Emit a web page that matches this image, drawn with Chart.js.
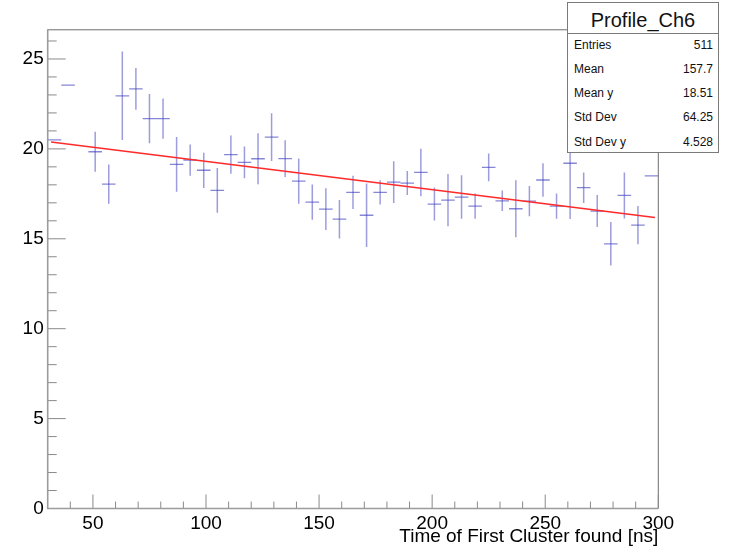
<!DOCTYPE html>
<html>
<head>
<meta charset="utf-8">
<script src="https://cdn.jsdelivr.net/npm/chart.js@4.4.0/dist/chart.umd.min.js"></script>
<style>
html,body{margin:0;padding:0;background:#fff;}
#wrap{position:relative;width:731px;height:553px;overflow:hidden;}
#stats{position:absolute;left:567px;top:2px;width:152px;height:151px;box-sizing:border-box;border:1px solid #7a7a7a;background:#fff;font-family:"Liberation Sans",Arial,Helvetica,sans-serif;color:#111;}
#stats .title{position:absolute;left:0;right:0;top:0;height:30px;border-bottom:1px solid #7a7a7a;text-align:center;font-size:20px;line-height:34px;}
#stats .row{position:absolute;left:6px;right:5px;font-size:12px;height:20px;line-height:20px;}
#stats .row span.v{position:absolute;right:0;top:0;}
</style>
</head>
<body>
<div id="wrap">
  <canvas id="c" width="731" height="553"></canvas>
  <div id="stats"></div>
</div>
<script>
// ---- data ----
const binCenters = [33,39,45,51,57,63,69,75,81,87,93,99,105,111,117,123,129,135,141,147,153,159,165,171,177,183,189,195,201,207,213,219,225,231,237,243,249,255,261,267,273,279,285,291,297];
const profMean = [20.50,23.55,null,19.84,18.04,22.95,23.34,21.68,21.68,19.14,19.38,18.81,17.69,19.68,19.25,19.45,20.65,19.46,18.21,17.04,16.65,16.09,17.58,16.31,17.58,18.15,18.10,18.69,16.93,17.15,17.32,16.82,18.97,17.11,16.67,17.09,18.27,16.82,19.20,17.84,16.54,14.72,17.41,15.76,18.50];
const profErr  = [0,0,null,1.11,1.09,2.46,1.16,1.37,1.12,1.52,0.87,0.98,1.24,1.06,0.88,1.42,1.33,1.02,1.26,0.98,1.16,1.07,0.93,1.77,0.67,1.16,0.67,1.32,0.92,1.45,1.21,0.70,0.77,0.57,1.58,0.84,0.93,0.70,3.10,0.85,0.89,1.21,1.28,1.06,0];
const binWidth = 6;
const fitX = [31.5, 298.5];
const fitY = [20.38, 16.18];
const xTicks = [50,100,150,200,250,300];
const yTicks = [0,5,10,15,20,25];
const xMinor = [40,60,70,80,90,110,120,130,140,160,170,180,190,210,220,230,240,260,270,280,290];
const yMinor = [1,2,3,4,6,7,8,9,11,12,13,14,16,17,18,19,21,22,23,24,26];
const xTitle = 'Time of First Cluster found [ns]';
const statsTitle = 'Profile_Ch6';
const statsLabels = ['Entries','Mean','Mean y','Std Dev','Std Dev y'];
const statsValues = ['511','157.7','18.51','64.25','4.528'];

// ---- stats box (HTML text) ----
(function(){
  const box = document.getElementById('stats');
  const t = document.createElement('div'); t.className='title'; t.textContent = statsTitle; box.appendChild(t);
  const centers = [42,66.3,90.3,114.3,138.7];
  statsLabels.forEach((l,i)=>{
    const r = document.createElement('div'); r.className='row';
    r.style.top = (centers[i]-10)+'px';
    r.innerHTML = '<span></span><span class="v"></span>';
    r.children[0].textContent = l; r.children[1].textContent = statsValues[i];
    box.appendChild(r);
  });
})();

const FONT = '"Liberation Sans", Arial, Helvetica, sans-serif';

const rootPlugin = {
  id: 'rootStyle',
  beforeDatasetsDraw(chart){
    const {ctx, chartArea:a} = chart;
    const x = chart.scales.x, y = chart.scales.y;
    ctx.save();
    ctx.beginPath(); ctx.rect(a.left, a.top, a.right-a.left, a.bottom-a.top); ctx.clip();
    binCenters.forEach((c,i)=>{
      const m = profMean[i];
      if (m === null) return;
      const e = profErr[i];
      const px = x.getPixelForValue(c), py = y.getPixelForValue(m);
      const x0 = x.getPixelForValue(c - binWidth/2), x1 = x.getPixelForValue(c + binWidth/2);
      ctx.strokeStyle = 'rgba(60,60,190,0.62)';
      ctx.lineWidth = 1.3;
      ctx.beginPath(); ctx.moveTo(x0, py); ctx.lineTo(x1, py); ctx.stroke();
      if (e > 0) {
        ctx.strokeStyle = 'rgba(60,60,190,0.5)';
        ctx.lineWidth = 1.5;
        ctx.beginPath(); ctx.moveTo(px, y.getPixelForValue(m+e)); ctx.lineTo(px, y.getPixelForValue(m-e)); ctx.stroke();
      }
    });
    ctx.restore();
  },
  afterDraw(chart){
    const {ctx, chartArea:a} = chart;
    const x = chart.scales.x, y = chart.scales.y;
    ctx.save();
    // frame top/right
    ctx.strokeStyle = '#6e6e6e'; ctx.lineWidth = 1;
    ctx.beginPath();
    ctx.moveTo(a.left, a.top+0.5); ctx.lineTo(a.right, a.top+0.5);
    ctx.moveTo(a.right, a.top); ctx.lineTo(a.right, a.bottom);
    ctx.stroke();
    // ticks
    ctx.strokeStyle = '#8a8a8a'; ctx.lineWidth = 1;
    ctx.beginPath();
    xTicks.forEach(v=>{ const p = x.getPixelForValue(v); ctx.moveTo(p, a.bottom); ctx.lineTo(p, a.bottom-14); });
    xMinor.forEach(v=>{ const p = x.getPixelForValue(v); ctx.moveTo(p, a.bottom); ctx.lineTo(p, a.bottom-7); });
    yTicks.forEach(v=>{ const p = y.getPixelForValue(v); ctx.moveTo(a.left, p); ctx.lineTo(a.left+18, p); });
    yMinor.forEach(v=>{ const p = y.getPixelForValue(v); ctx.moveTo(a.left, p); ctx.lineTo(a.left+9, p); });
    ctx.stroke();
    // axes left/bottom
    ctx.strokeStyle = '#9c9c9c'; ctx.lineWidth = 1.6;
    ctx.beginPath();
    ctx.moveTo(a.left, a.top); ctx.lineTo(a.left, a.bottom); ctx.lineTo(a.right, a.bottom);
    ctx.stroke();
    ctx.restore();
  }
};

new Chart(document.getElementById('c'), {
  type: 'scatter',
  data: {
    datasets: [
      {
        label: 'profile',
        data: binCenters.map((c,i)=>({x:c, y:profMean[i]})),
        pointRadius: 0, pointHoverRadius: 0, showLine: false
      },
      {
        type: 'line',
        label: 'fit',
        data: fitX.map((v,i)=>({x:v, y:fitY[i]})),
        borderColor: '#ff2a2a', borderWidth: 1.6, pointRadius: 0, fill: false, tension: 0
      }
    ]
  },
  options: {
    responsive: false,
    animation: false,
    devicePixelRatio: 1,
    layout: { padding: { top: 29.3, right: 72.7, left: 0, bottom: 0 } },
    plugins: { legend: { display: false }, tooltip: { enabled: false } },
    scales: {
      x: {
        type: 'linear', min: 30, max: 300,
        grid: { display: false, drawTicks: false },
        border: { display: false },
        afterBuildTicks: s => { s.ticks = xTicks.map(v=>({value:v})); },
        afterFit: s => { s.height = 44.5; },
        ticks: { color: '#000', font: { family: FONT, size: 19 }, padding: 4, maxRotation: 0, autoSkip: false },
        title: { display: true, text: xTitle, align: 'end', color: '#000', font: { family: FONT, size: 19 }, padding: { top: 0, bottom: 5 } }
      },
      y: {
        type: 'linear', min: 0, max: 26.65,
        grid: { display: false, drawTicks: false },
        border: { display: false },
        afterBuildTicks: s => { s.ticks = yTicks.map(v=>({value:v})); },
        afterFit: s => { s.width = 47.7; },
        ticks: { color: '#000', font: { family: FONT, size: 19 }, padding: 4, autoSkip: false }
      }
    }
  },
  plugins: [rootPlugin]
});
</script>
</body>
</html>
